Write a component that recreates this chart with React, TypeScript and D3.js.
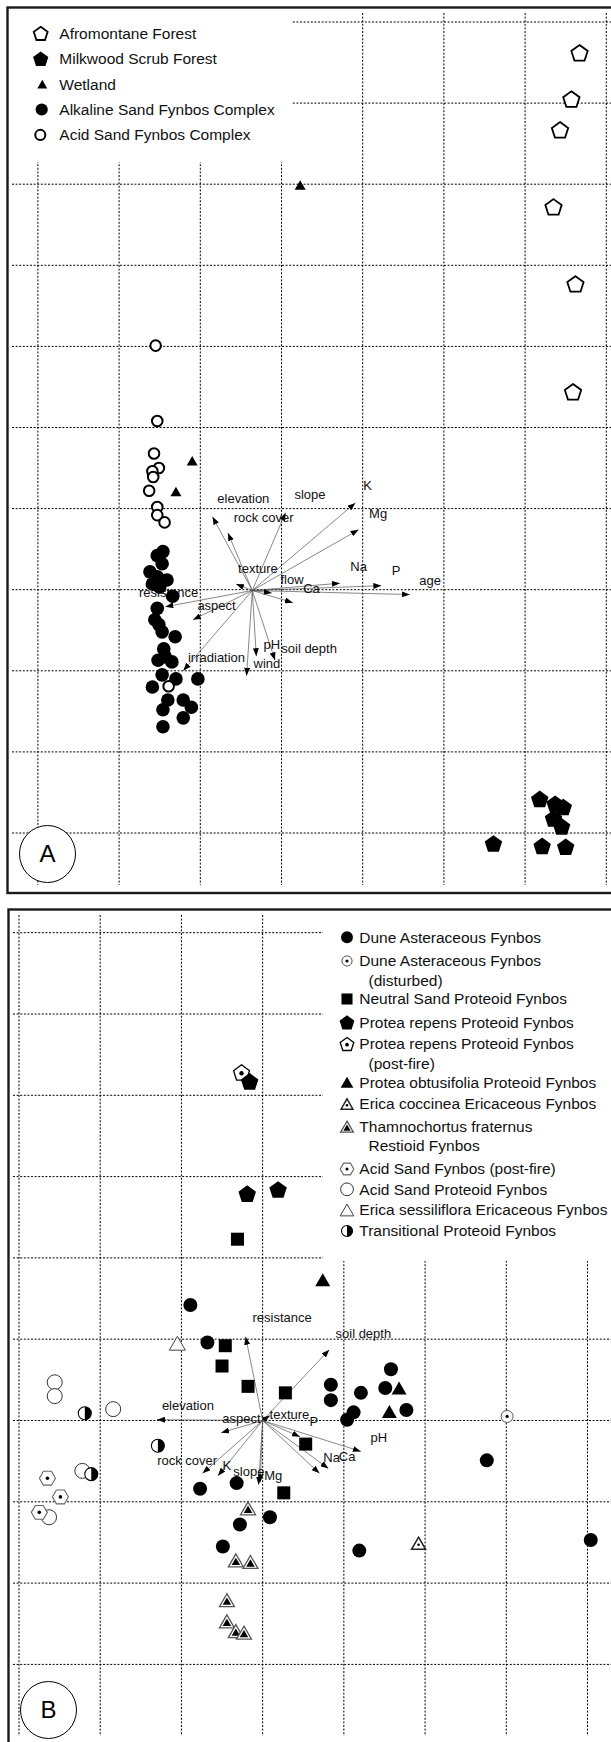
import * as d3 from "d3";

type Pt = [number, number];

const FONT = "'Liberation Sans', Arial, Helvetica, sans-serif";

// grid ticks (one unit = one grid cell)
const gridXA = [0, 1, 2, 3, 4, 5, 6, 7];
const gridYA = [0, 1, 2, 3, 4, 5, 6, 7, 8, 9, 10];
const gridXB = [0, 1, 2, 3, 4, 5, 6, 7];
const gridYB = [0, 1, 2, 3, 4, 5, 6, 7, 8, 9];

// ---------- panel A ----------
const legendA = [
  "Afromontane Forest",
  "Milkwood Scrub Forest",
  "Wetland",
  "Alkaline Sand Fynbos Complex",
  "Acid Sand Fynbos Complex",
];
const afromontaneA: Pt[] = [[6.67, 9.62], [6.57, 9.05], [6.43, 8.67], [6.35, 7.72], [6.62, 6.77], [6.59, 5.44]];
const milkwoodA: Pt[] = [[6.18, 0.42], [6.37, 0.36], [6.47, 0.32], [6.35, 0.18], [6.45, 0.08], [5.61, -0.13], [6.21, -0.16], [6.5, -0.17]];
const wetlandA: Pt[] = [[3.23, 7.99], [1.9, 4.59], [1.7, 4.21]];
const alkalineA: Pt[] = [
  [1.54, 3.47], [1.47, 3.42], [1.53, 3.32], [1.38, 3.22], [1.47, 3.16], [1.59, 3.12], [1.41, 3.07],
  [1.5, 3.03], [1.66, 2.92], [1.47, 2.77], [1.44, 2.63], [1.49, 2.57], [1.53, 2.48], [1.69, 2.42],
  [1.55, 2.27], [1.57, 2.17], [1.48, 2.13], [1.65, 2.11], [1.53, 1.95], [1.7, 1.9], [1.97, 1.9],
  [1.41, 1.8], [1.6, 1.64], [1.79, 1.64], [1.89, 1.55], [1.54, 1.52], [1.79, 1.42], [1.54, 1.31],
];
const acidA: Pt[] = [[1.45, 6.01], [1.47, 5.08], [1.43, 4.68], [1.49, 4.5], [1.41, 4.46], [1.42, 4.39], [1.37, 4.22], [1.47, 4.02], [1.47, 3.92], [1.56, 3.83], [1.61, 1.81]];

const originA: Pt = [2.64, 2.99];
const vecNamesA = ["elevation", "rock cover", "slope", "K", "Mg", "texture", "Na", "P", "age", "Ca", "flow", "resistance", "aspect", "irradiation", "wind", "pH", "soil depth"];
const vecTipsA: Pt[] = [
  [2.15, 3.9], [2.34, 3.7], [3.05, 3.95], [3.91, 4.07], [3.95, 3.74], [2.44, 3.07], [3.72, 3.08], [4.23, 3.05], [4.58, 2.94],
  [2.88, 2.96], [3.14, 2.84], [1.57, 2.79], [1.91, 2.63], [1.79, 2.0], [2.57, 1.94], [2.69, 2.18], [2.92, 2.13],
];
const vecLabelsA: Pt[] = [
  [2.53, 4.12], [2.78, 3.89], [3.35, 4.17], [4.06, 4.29], [4.19, 3.94], [2.71, 3.26], [3.95, 3.29], [4.41, 3.24], [4.83, 3.12],
  [3.37, 3.02], [3.13, 3.13], [1.61, 2.96], [2.2, 2.81], [2.2, 2.17], [2.82, 2.09], [2.88, 2.33], [3.34, 2.27],
];

// ---------- panel B ----------
const legendB = [
  ["Dune Asteraceous Fynbos"],
  ["Dune Asteraceous Fynbos", "(disturbed)"],
  ["Neutral Sand Proteoid Fynbos"],
  ["Protea repens Proteoid Fynbos"],
  ["Protea repens Proteoid Fynbos", "(post-fire)"],
  ["Protea obtusifolia Proteoid Fynbos"],
  ["Erica coccinea Ericaceous Fynbos"],
  ["Thamnochortus fraternus", "Restioid Fynbos"],
  ["Acid Sand Fynbos (post-fire)"],
  ["Acid Sand Proteoid Fynbos"],
  ["Erica sessiliflora Ericaceous Fynbos"],
  ["Transitional Proteoid Fynbos"],
];
const duneB: Pt[] = [
  [2.11, 4.42], [2.32, 3.96], [3.84, 3.44], [3.84, 3.25], [4.21, 3.34], [4.58, 3.63], [4.51, 3.4], [4.77, 3.13],
  [4.12, 3.1], [4.04, 3.01], [5.76, 2.51], [7.04, 1.53], [4.19, 1.4], [2.23, 2.16], [2.68, 2.23], [3.09, 1.81],
  [2.72, 1.72], [2.51, 1.45],
];
const duneDistB: Pt[] = [[6.01, 3.05]];
const neutralB: Pt[] = [[2.69, 5.23], [2.54, 3.92], [2.5, 3.67], [2.82, 3.42], [3.28, 3.34], [3.53, 2.71], [3.26, 2.11]];
const repensB: Pt[] = [[2.84, 7.17], [2.81, 5.79], [3.19, 5.84]];
const repensFireB: Pt[] = [[2.74, 7.28]];
const obtusifoliaB: Pt[] = [[3.74, 4.73], [4.68, 3.4], [4.56, 3.11]];
const coccineaB: Pt[] = [[4.92, 1.49]];
const thamnoB: Pt[] = [[2.82, 1.92], [2.67, 1.28], [2.85, 1.26], [2.56, 0.79], [2.56, 0.53], [2.67, 0.41], [2.77, 0.39]];
const acidFireB: Pt[] = [[0.35, 2.29], [0.51, 2.06], [0.25, 1.87]];
const acidProtB: Pt[] = [[0.44, 3.47], [0.44, 3.3], [1.16, 3.14], [0.78, 2.38], [0.37, 1.81]];
const sessilifloraB: Pt[] = [[1.95, 3.95]];
const transitionalB: Pt[] = [[0.81, 3.09], [1.71, 2.69], [0.89, 2.34]];

const originB: Pt = [3.0, 3.0];
const vecNamesB = ["resistance", "soil depth", "elevation", "aspect", "texture", "P", "pH", "Ca", "Na", "rock cover", "K", "slope", "Mg"];
const vecTipsB: Pt[] = [
  [2.79, 4.03], [3.82, 3.87], [1.7, 3.01], [2.49, 2.85], [3.09, 3.06], [3.46, 2.8], [4.21, 2.62], [3.7, 2.35], [3.81, 2.41],
  [2.26, 2.35], [2.45, 2.32], [2.95, 2.21], [2.97, 2.24],
];
const vecLabelsB: Pt[] = [
  [3.24, 4.27], [4.24, 4.07], [2.08, 3.19], [2.74, 3.02], [3.33, 3.08], [3.63, 2.99], [4.43, 2.79], [4.04, 2.56], [3.85, 2.54],
  [2.07, 2.51], [2.56, 2.45], [2.83, 2.37], [3.13, 2.33],
];

// ---------- symbols ----------
const poly = (cx: number, cy: number, r: number, n: number, rot: number) =>
  d3.range(n).map((i) => {
    const a = ((rot + (360 / n) * i) * Math.PI) / 180;
    return `${cx + r * Math.cos(a)},${cy + r * Math.sin(a)}`;
  }).join(" ");

const tri = (cx: number, cy: number, side: number) => {
  const r = side / Math.sqrt(3);
  return poly(cx, cy + r / 4, r, 3, -90);
};

function Mark({ kind, x, y, k = 1 }: { kind: string; x: number; y: number; k?: number }) {
  switch (kind) {
    case "pentOpen":
      return <polygon points={poly(x, y + 0.8, 8.6 * k, 5, -90)} fill="#fff" stroke="#000" strokeWidth={1.8} />;
    case "pentFill":
      return <polygon points={poly(x, y + 0.8, 9.2 * k, 5, -90)} fill="#000" />;
    case "triFillA":
      return <polygon points={tri(x, y, 11 * k)} fill="#000" />;
    case "circFillA":
      return <circle cx={x} cy={y} r={6.8 * k} fill="#000" />;
    case "circOpenA":
      return <circle cx={x} cy={y} r={5.3 * k} fill="#fff" stroke="#000" strokeWidth={2} />;
    case "circFill":
      return <circle cx={x} cy={y} r={7 * k} fill="#000" />;
    case "circDot":
      return (
        <g>
          <circle cx={x} cy={y} r={6 * k} fill="#fff" stroke="#555" strokeWidth={1} />
          <circle cx={x} cy={y} r={1.6} fill="#000" />
        </g>
      );
    case "square":
      return <rect x={x - 6.5 * k} y={y - 6.5 * k} width={13 * k} height={13 * k} fill="#000" />;
    case "pentDot":
      return (
        <g>
          <polygon points={poly(x, y + 0.7, 8.4 * k, 5, -90)} fill="#fff" stroke="#000" strokeWidth={1.3} />
          <circle cx={x} cy={y + 0.7} r={2.2 * k} fill="#000" />
        </g>
      );
    case "triFill":
      return <polygon points={tri(x, y, 15 * k)} fill="#000" />;
    case "triDot":
      return (
        <g>
          <polygon points={tri(x, y, 14 * k)} fill="#fff" stroke="#222" strokeWidth={1.5} />
          <circle cx={x} cy={y + 1.5 * k} r={1.3} fill="#000" />
        </g>
      );
    case "triDouble":
      return (
        <g>
          <polygon points={tri(x, y, 15 * k)} fill="#fff" stroke="#555" strokeWidth={1.3} />
          <polygon points={tri(x, y + 1 * k, 8.5 * k)} fill="#000" />
        </g>
      );
    case "hexDot":
      return (
        <g>
          <polygon points={poly(x, y, 8 * k, 6, 0)} fill="#fff" stroke="#666" strokeWidth={1.1} />
          <circle cx={x} cy={y} r={1.8 * k} fill="#000" />
        </g>
      );
    case "circOpen":
      return <circle cx={x} cy={y} r={7.5 * k} fill="#fff" stroke="#333" strokeWidth={1} />;
    case "triOpen":
      return <polygon points={tri(x, y, 16 * k)} fill="#fff" stroke="#444" strokeWidth={1} />;
    case "halfCirc": {
      const r = 6.5 * k;
      return (
        <g>
          <circle cx={x} cy={y} r={r} fill="#fff" stroke="#000" strokeWidth={1.1} />
          <path d={`M${x},${y - r}A${r},${r} 0 0 1 ${x},${y + r}Z`} fill="#000" />
        </g>
      );
    }
    default:
      return null;
  }
}

function Grid({ xs, ys, sx, sy, x0, x1, y0, y1 }: any) {
  return (
    <g stroke="#000" strokeWidth={1} strokeDasharray="2,1.6">
      {xs.map((v: number) => (
        <line key={"v" + v} x1={sx(v)} x2={sx(v)} y1={y0} y2={y1} />
      ))}
      {ys.map((v: number) => (
        <line key={"h" + v} x1={x0} x2={x1} y1={sy(v)} y2={sy(v)} />
      ))}
    </g>
  );
}

function Vectors({ names, tips, labels, origin, sx, sy }: any) {
  return (
    <g>
      {names.map((n: string, i: number) => (
        <line
          key={"l" + n}
          x1={sx(origin[0])}
          y1={sy(origin[1])}
          x2={sx(tips[i][0])}
          y2={sy(tips[i][1])}
          stroke="#555"
          strokeWidth={0.7}
          markerEnd="url(#arrow)"
        />
      ))}
      {names.map((n: string, i: number) => (
        <text key={"t" + n} x={sx(labels[i][0])} y={sy(labels[i][1])} dy="0.35em" textAnchor="middle" fontSize={13} fill="#111">
          {n}
        </text>
      ))}
    </g>
  );
}

export default function App() {
  const xA = d3.scaleLinear().domain([0, 7]).range([37.9, 606.3]);
  const yA = d3.scaleLinear().domain([0, 10]).range([833, 22]);
  const xB = d3.scaleLinear().domain([0, 7]).range([19, 587.5]);
  const yB = d3.scaleLinear().domain([0, 9]).range([1664.4, 932.7]);

  const kindsA = ["pentOpen", "pentFill", "triFillA", "circFillA", "circOpenA"];
  const legXA = [40.7, 40.7, 42.3, 41.7, 40.3];
  const legKA = [0.85, 0.87, 0.9, 0.9, 0.95];

  const kindsB = ["circFill", "circDot", "square", "pentFill", "pentDot", "triFill", "triDot", "triDouble", "hexDot", "circOpen", "triOpen", "halfCirc"];
  const legYB = [937.3, 961, 999, 1022.3, 1044, 1082.3, 1104, 1126.7, 1169, 1189.3, 1210, 1231];

  const seriesA: [string, Pt[]][] = [
    ["circFillA", alkalineA],
    ["circOpenA", acidA],
    ["triFillA", wetlandA],
    ["pentFill", milkwoodA],
    ["pentOpen", afromontaneA],
  ];
  const seriesB: [string, Pt[]][] = [
    ["circOpen", acidProtB],
    ["hexDot", acidFireB],
    ["halfCirc", transitionalB],
    ["triOpen", sessilifloraB],
    ["square", neutralB],
    ["circFill", duneB],
    ["triFill", obtusifoliaB],
    ["circDot", duneDistB],
    ["pentDot", repensFireB],
    ["pentFill", repensB],
    ["triDot", coccineaB],
    ["triDouble", thamnoB],
  ];

  return (
    <svg width={611} height={1742} style={{ position: "fixed", left: 0, top: 0, background: "#fff" }} fontFamily={FONT}>
      <defs>
        <marker id="arrow" viewBox="0 0 8 6" refX={8} refY={3} markerWidth={8} markerHeight={6} markerUnits="userSpaceOnUse" orient="auto">
          <path d="M0,0L8,3L0,6Z" fill="#000" />
        </marker>
      </defs>
      <rect width={611} height={1742} fill="#fff" />

      {/* Panel A */}
      <Grid xs={gridXA} ys={gridYA} sx={xA} sy={yA} x0={12} x1={611} y0={13} y1={885} />
      <rect x={8} y={8} width={284} height={154} fill="#fff" />
      <Vectors names={vecNamesA} tips={vecTipsA} labels={vecLabelsA} origin={originA} sx={xA} sy={yA} />
      {seriesA.map(([kind, pts]) => (
        <g key={kind}>
          {pts.map((p, i) => (
            <Mark key={i} kind={kind} x={xA(p[0])} y={yA(p[1])} />
          ))}
        </g>
      ))}
      {legendA.map((name, i) => (
        <g key={name}>
          <Mark kind={kindsA[i]} x={legXA[i]} y={33.3 + i * 25.4} k={legKA[i]} />
          <text x={59.3} y={33.3 + i * 25.4} dy="0.35em" fontSize={15.5} fill="#111">
            {name}
          </text>
        </g>
      ))}
      <ellipse cx={47.5} cy={854} rx={28} ry={28.5} fill="#fff" stroke="#000" strokeWidth={1} />
      <text x={47.5} y={854} dy="0.35em" textAnchor="middle" fontSize={24} fill="#000">
        A
      </text>
      <rect x={7.5} y={7.5} width={620} height={885.5} fill="none" stroke="#1a1a1a" strokeWidth={2.4} />

      {/* Panel B */}
      <Grid xs={gridXB} ys={gridYB} sx={xB} sy={yB} x0={13} x1={611} y0={915} y1={1736} />
      <rect x={323} y={910} width={300} height={351} fill="#fff" />
      <Vectors names={vecNamesB} tips={vecTipsB} labels={vecLabelsB} origin={originB} sx={xB} sy={yB} />
      {seriesB.map(([kind, pts]) => (
        <g key={kind}>
          {pts.map((p, i) => (
            <Mark key={i} kind={kind} x={xB(p[0])} y={yB(p[1])} />
          ))}
        </g>
      ))}
      {legendB.map((lines, i) => (
        <g key={i}>
          <Mark kind={kindsB[i]} x={347} y={legYB[i]} k={0.85} />
          {lines.map((ln, j) => (
            <text key={j} x={j === 0 ? 359.3 : 368.5} y={legYB[i] + j * 19.3} dy="0.35em" fontSize={15.5} fill="#111">
              {ln}
            </text>
          ))}
        </g>
      ))}
      <ellipse cx={48.5} cy={1710} rx={28} ry={28.5} fill="#fff" stroke="#000" strokeWidth={1} />
      <text x={48.5} y={1710} dy="0.35em" textAnchor="middle" fontSize={24} fill="#000">
        B
      </text>
      <rect x={8.5} y={909.5} width={620} height={900} fill="none" stroke="#1a1a1a" strokeWidth={2.4} />
    </svg>
  );
}
